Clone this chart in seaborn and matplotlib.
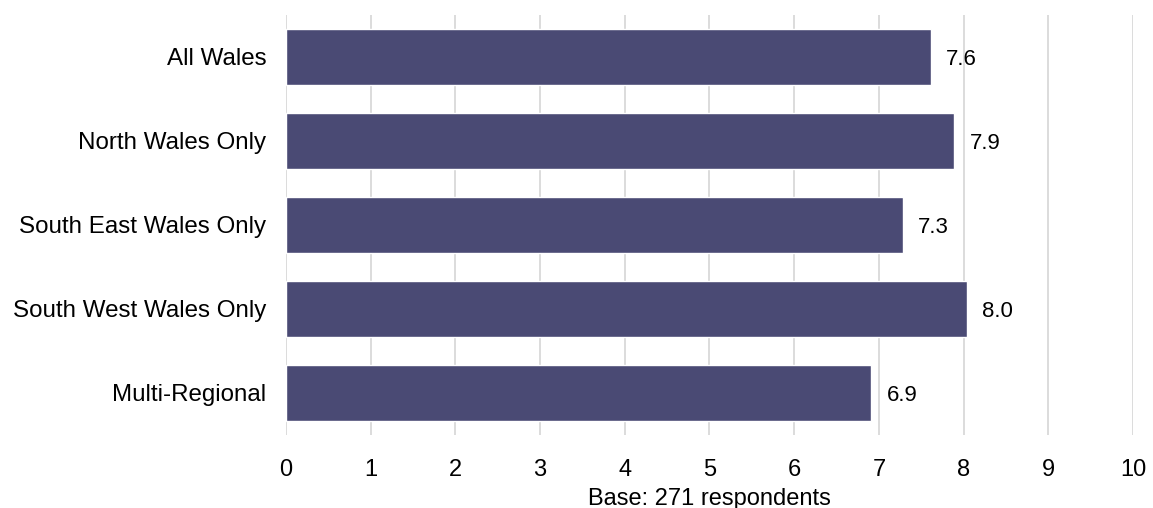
import matplotlib
matplotlib.use("Agg")
import matplotlib.pyplot as plt
import seaborn as sns
import pandas as pd

categories = ["All Wales", "North Wales Only", "South East Wales Only", "South West Wales Only", "Multi-Regional"]
values = [7.61, 7.89, 7.28, 8.04, 6.91]
labels = ["7.6", "7.9", "7.3", "8.0", "6.9"]
xticks = [0, 1, 2, 3, 4, 5, 6, 7, 8, 9, 10]
xlabel = "Base: 271 respondents"

sns.set_theme(style="white")
plt.rcParams['font.family'] = ['Liberation Sans', 'DejaVu Sans']
plt.rcParams['text.color'] = 'black'
plt.rcParams['xtick.color'] = 'black'
plt.rcParams['ytick.color'] = 'black'
plt.rcParams['axes.labelcolor'] = 'black'

df = pd.DataFrame({"cat": categories, "val": values})

fig = plt.figure(figsize=(11.53, 5.08), dpi=100)
ax = fig.add_axes([0.248, 0.1437, 0.7347, 0.8268])
sns.barplot(data=df, y="cat", x="val", color="#4a4a74", saturation=1, width=0.66, ax=ax, zorder=3)
ax.set_xlim(0, 10)
ax.set_ylim(4.5, -0.5)
ax.set_xticks(xticks)
ax.set_xticklabels([str(t) for t in xticks], fontsize=17)
ax.tick_params(axis='x', length=0, pad=17)
ax.tick_params(axis='y', length=0, pad=14, labelsize=17.4)
ax.grid(axis='x', color="#d9d9d9", linewidth=1.3, zorder=0)
ax.set_axisbelow(True)
for s in ax.spines.values():
    s.set_visible(False)
ax.set_ylabel("")
ax.set_xlabel(xlabel, fontsize=17, labelpad=5)
for i, (v, l) in enumerate(zip(values, labels)):
    ax.annotate(l, xy=(v, i), xytext=(11, -2), textcoords="offset points", va="center", ha="left", fontsize=16)
fig.savefig("out.png", dpi=100)
